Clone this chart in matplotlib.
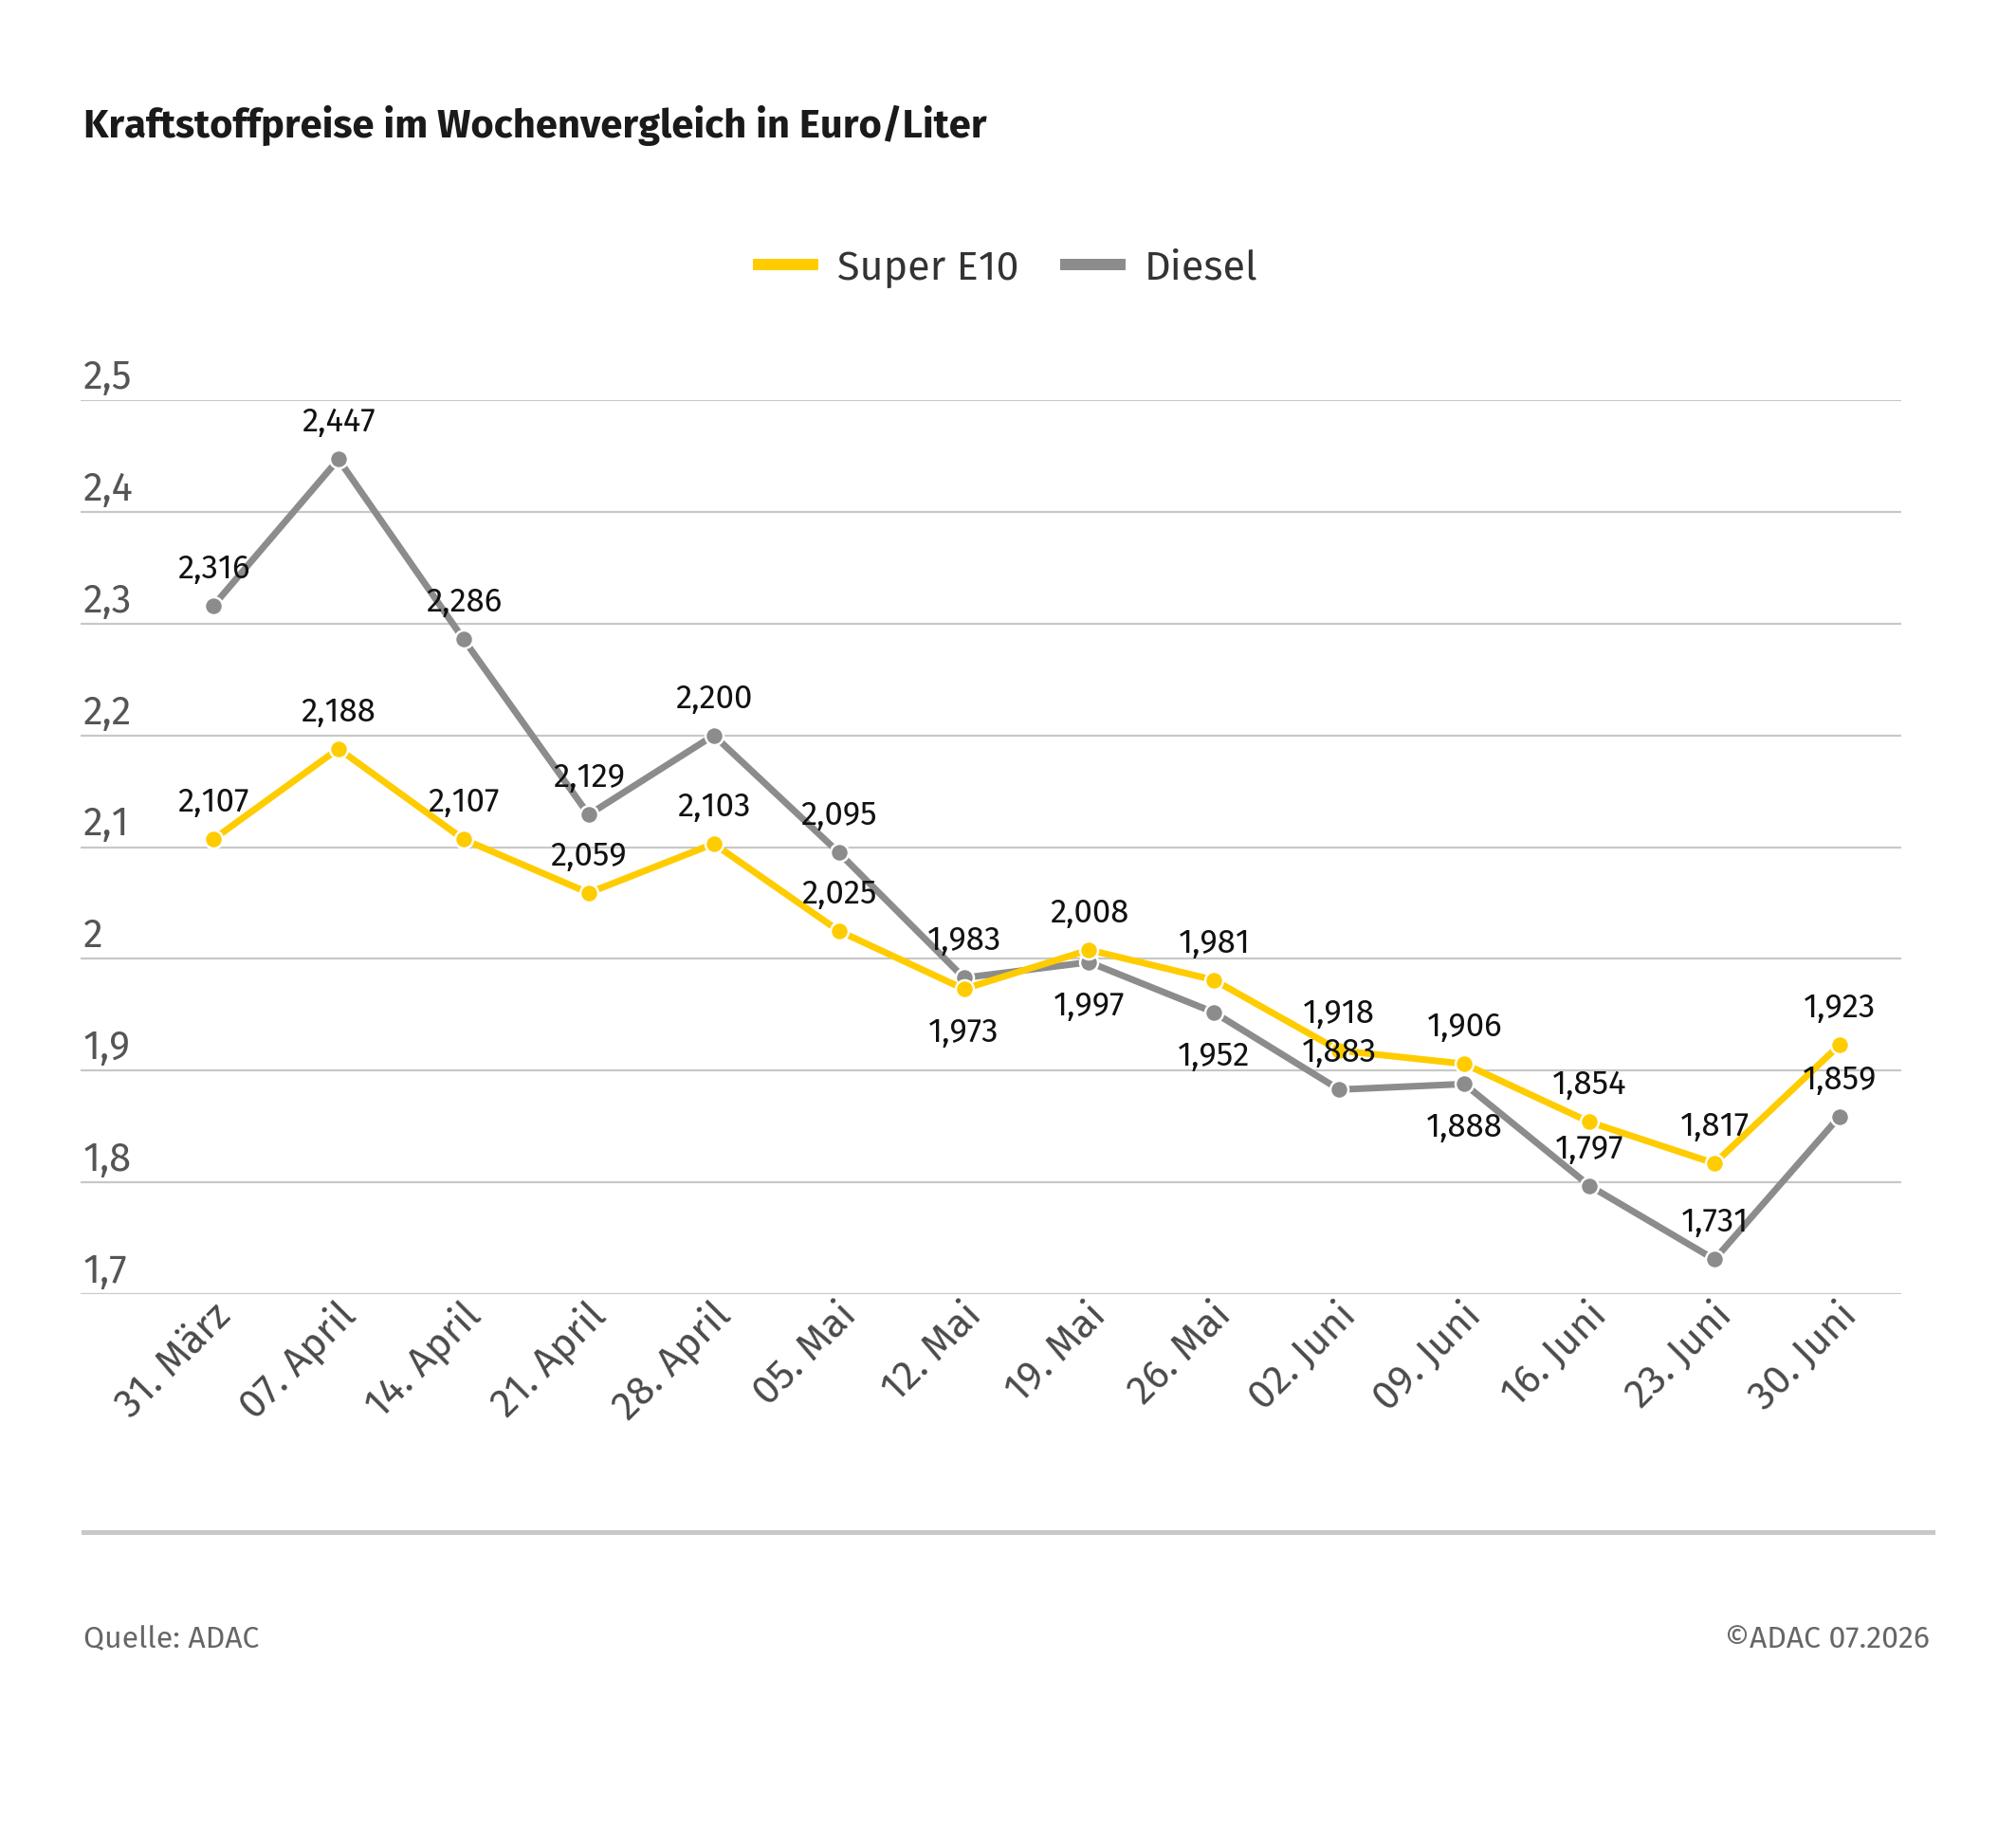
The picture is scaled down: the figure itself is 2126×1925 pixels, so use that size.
import matplotlib
matplotlib.use("Agg")
import matplotlib.pyplot as plt
import matplotlib.transforms as mtransforms
from matplotlib.lines import Line2D

# ---------------- data ----------------
dates = ["31. März", "07. April", "14. April", "21. April", "28. April", "05. Mai",
         "12. Mai", "19. Mai", "26. Mai", "02. Juni", "09. Juni", "16. Juni",
         "23. Juni", "30. Juni"]
super_e10 = [2.107, 2.188, 2.107, 2.059, 2.103, 2.025, 1.973, 2.008, 1.981,
             1.918, 1.906, 1.854, 1.817, 1.923]
diesel = [2.316, 2.447, 2.286, 2.129, 2.200, 2.095, 1.983, 1.997, 1.952,
          1.883, 1.888, 1.797, 1.731, 1.859]
super_label_below = [False, False, False, False, False, False, True, False, False,
                     False, False, False, False, False]
diesel_label_below = [False, False, False, False, False, False, False, True, True,
                      False, True, False, False, False]
yticks = [1.7, 1.8, 1.9, 2.0, 2.1, 2.2, 2.3, 2.4, 2.5]
ytick_labels = ["1,7", "1,8", "1,9", "2", "2,1", "2,2", "2,3", "2,4", "2,5"]
series_names = ["Super E10", "Diesel"]
title = "Kraftstoffpreise im Wochenvergleich in Euro/Liter"
source = "Quelle: ADAC"
copyright_txt = "©ADAC 07.2026"

# ---------------- style ----------------
YELLOW = "#FFCC00"
GREY = "#8C8C8C"
GRID = "#C8C8C8"

plt.rcParams["font.family"] = ["Fira Sans", "Noto Sans", "DejaVu Sans"]

W, H, DPI = 2126, 1925, 100
fig = plt.figure(figsize=(W / DPI, H / DPI), dpi=DPI, facecolor="white")
PT = 72.0 / DPI  # px -> pt

left_px, right_px, top_px, bot_px = 85, 2005, 422, 1365
ax = fig.add_axes([left_px / W, 1 - bot_px / H, (right_px - left_px) / W,
                   (bot_px - top_px) / H])
x = list(range(len(dates)))
x0_px, x13_px = 225, 1940
step = (x13_px - x0_px) / (len(dates) - 1)
ax.set_xlim(-(x0_px - left_px) / step, (len(dates) - 1) + (right_px - x13_px) / step)
ax.set_ylim(1.7, 2.5)

for s in ax.spines.values():
    s.set_visible(False)
ax.set_yticks(yticks)
ax.yaxis.grid(True, color=GRID, linewidth=2.2 * PT)
ax.set_axisbelow(True)
ax.tick_params(axis="y", length=0, labelleft=False)
ytrans = mtransforms.blended_transform_factory(fig.transFigure, ax.transData)
for yv, lab in zip(yticks, ytick_labels):
    ax.text(88 / W, yv, lab,
            transform=ytrans + mtransforms.ScaledTranslation(0, 12 / DPI, fig.dpi_scale_trans),
            ha="left", va="baseline", fontsize=30, color="#555555")

ax.set_xticks(x)
ax.set_xticklabels(dates, rotation=45, ha="right", rotation_mode="anchor",
                   fontsize=30.5, color="#4A4A4A")
ax.tick_params(axis="x", length=0, pad=1)
off = mtransforms.ScaledTranslation(-3 / DPI, 0, fig.dpi_scale_trans)
for lbl in ax.get_xticklabels():
    lbl.set_transform(lbl.get_transform() + off)

for vals, below, col, z in [(diesel, diesel_label_below, GREY, 3),
                            (super_e10, super_label_below, YELLOW, 4)]:
    ax.plot(x, vals, color=col, linewidth=7 * PT, marker="o", markersize=19 * PT,
            markerfacecolor=col, markeredgecolor="white", markeredgewidth=2.5 * PT,
            zorder=z, solid_capstyle="butt")
    for xi, v, b in zip(x, vals, below):
        txt = f"{v:.3f}".replace(".", ",")
        dy = -56 if b else 29
        ax.annotate(txt, (xi, v), xytext=(0, dy * PT), textcoords="offset points",
                    ha="center", va="baseline", fontsize=25, color="#111111", zorder=6)

# legend
handles = [Line2D([], [], color=YELLOW, linewidth=12 * PT),
           Line2D([], [], color=GREY, linewidth=12 * PT)]
fig.legend(handles, series_names, loc="center", bbox_to_anchor=(1063 / W, 1 - 283 / H),
           ncol=2, frameon=False, fontsize=31, handlelength=1.32, handletextpad=0.6,
           columnspacing=1.15, labelcolor="#333333")

# title
fig.text(88 / W, 1 - 145 / H, title, ha="left", va="baseline", fontsize=30,
         fontweight="bold", color="#1A1A1A")

# separator
fig.add_artist(Line2D([88 / W, 2038 / W], [1 - 1616 / H, 1 - 1616 / H],
                      color=GRID, linewidth=5 * PT, transform=fig.transFigure))

# footer
fig.text(88 / W, 1 - 1738 / H, source, ha="left", va="baseline", fontsize=23, color="#666666")
fig.text(2035 / W, 1 - 1738 / H, copyright_txt, ha="right", va="baseline", fontsize=23,
         color="#666666")

fig.savefig("out.png", dpi=DPI, facecolor="white")
